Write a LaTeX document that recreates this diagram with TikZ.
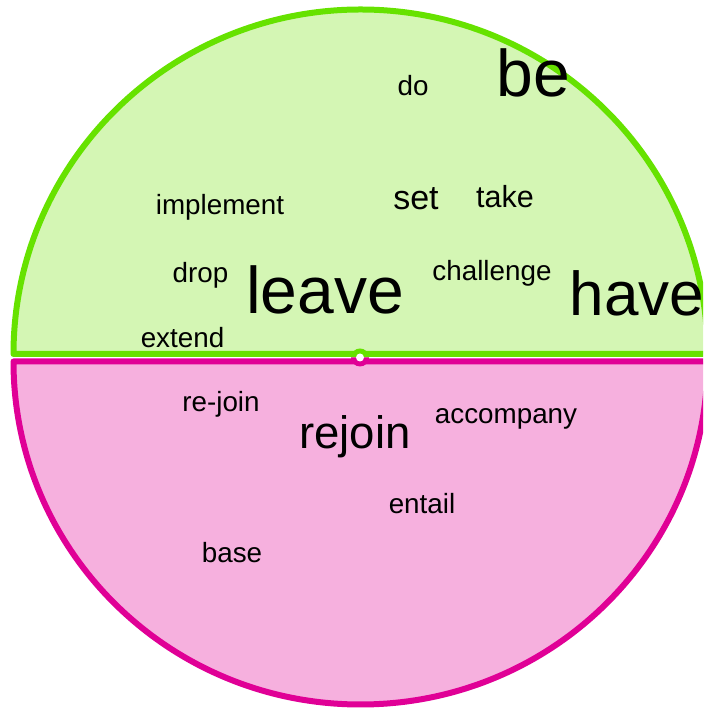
\documentclass[tikz,border=0pt]{standalone}
\usepackage{fontspec}
\setmainfont{Liberation Sans}
\definecolor{upline}{RGB}{102,226,0}
\definecolor{upfill}{RGB}{212,246,180}
\definecolor{lowline}{RGB}{224,0,150}
\definecolor{lowfill}{RGB}{246,176,222}
\tikzset{
  word/.style={anchor=base, inner sep=0pt, text=black, font=\fontsize{27.8}{27.8}\selectfont},
  bigword/.style={word, font=\fontsize{#1}{#1}\selectfont},
  half/.style={line width=6pt, line join=round}
}
\begin{document}
\begin{tikzpicture}[x=1pt,y=1pt]
\useasboundingbox (0,0) rectangle (703,708);
\clip (0,0) rectangle (703,708);
% upper half disc
\filldraw[half, fill=upfill, draw=upline]
  (13.5,354) arc[start angle=180, end angle=0, x radius=347, y radius=344.5] -- cycle;
% lower half disc
\filldraw[half, fill=lowfill, draw=lowline]
  (13.5,346.5) arc[start angle=180, end angle=360, x radius=347, y radius=343] -- cycle;
% central marker
\coordinate (mid) at (360,350.5);
\fill[upline] (mid) ++(9,0) arc[start angle=0, end angle=180, radius=9] -- cycle;
\fill[lowline] (mid) ++(-9,0) arc[start angle=180, end angle=360, radius=9] -- cycle;
\fill[white] (mid) circle[radius=4];
% words of the upper half
\node[bigword=66] (be) at (533.5,611) {be};
\node[word] (do) at (413,612) {do};
\node[word] (implement) at (220,493) {implement};
\node[bigword=34] (set) at (416,498) {set};
\node[bigword=30.5] (take) at (505,500) {take};
\node[word] (drop) at (200.5,425) {drop};
\node[bigword=66] (leave) at (325,394.5) {leave};
\node[word] (challenge) at (492,427) {challenge};
\node[bigword=62] (have) at (637,392.5) {have};
\node[word] (extend) at (182.5,360) {extend};
% words of the lower half
\node[word] (rejoinb) at (221,296) {re-join};
\node[bigword=45.5] (rejoin) at (355,259) {rejoin};
\node[word] (accompany) at (506,284) {accompany};
\node[word] (entail) at (422,194) {entail};
\node[word] (base) at (232,145) {base};
\end{tikzpicture}
\end{document}
